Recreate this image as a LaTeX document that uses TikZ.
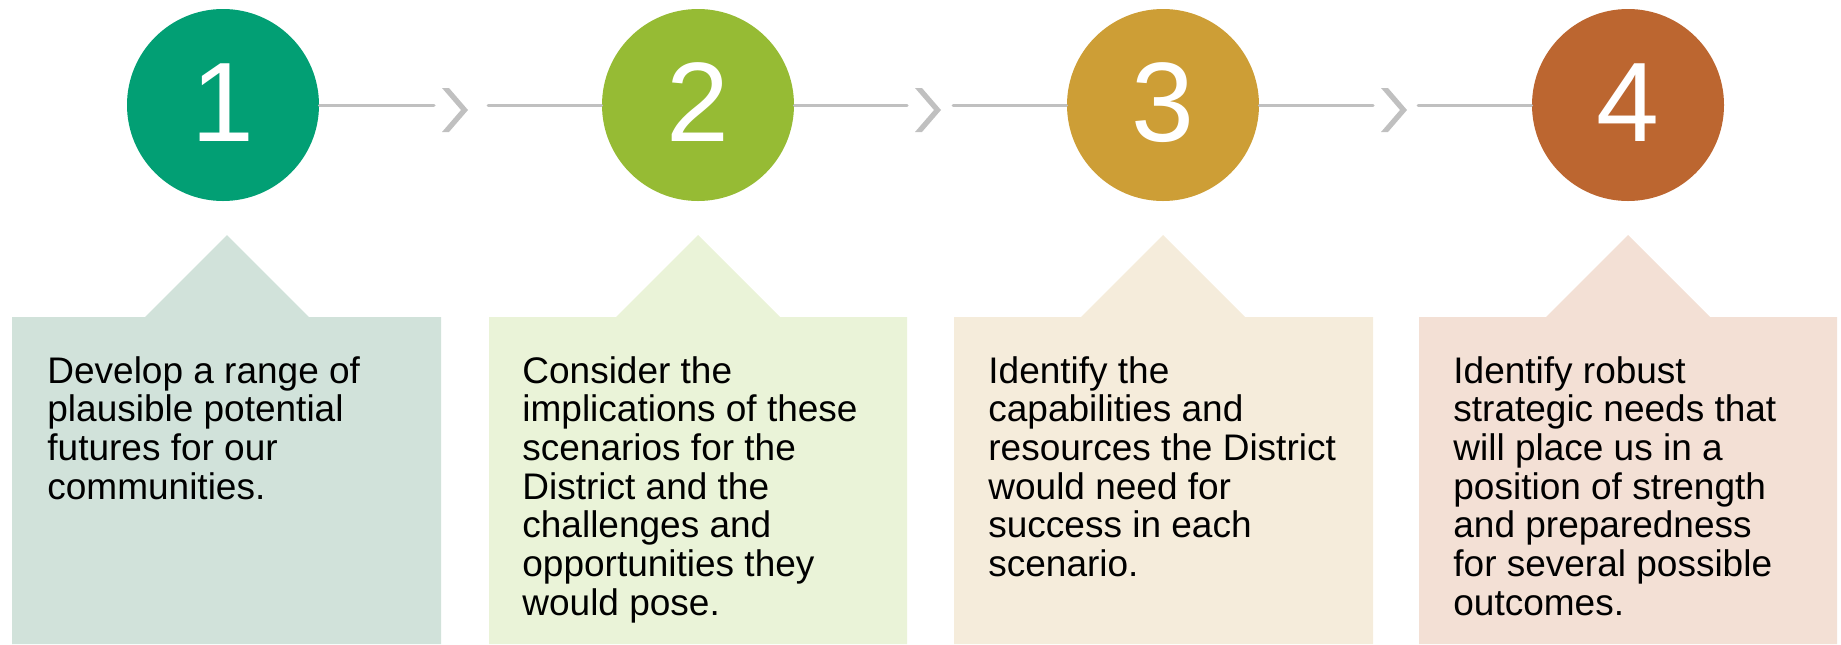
\documentclass[tikz,border=0pt]{standalone}
\usepackage{fontspec}
\setmainfont{Liberation Sans}
\definecolor{cA}{RGB}{2,159,116}
\definecolor{cB}{RGB}{150,187,52}
\definecolor{cC}{RGB}{205,158,54}
\definecolor{cD}{RGB}{188,102,48}
\definecolor{bA}{RGB}{209,226,218}
\definecolor{bB}{RGB}{234,243,216}
\definecolor{bC}{RGB}{245,236,219}
\definecolor{bD}{RGB}{243,224,213}
\definecolor{lineg}{RGB}{192,192,192}
\begin{document}
\begin{tikzpicture}[x=0.5pt,y=-0.5pt,
  stepcirc/.style={circle,inner sep=0pt,minimum size=96pt,text=white,
    font=\fontsize{56.5pt}{60pt}\selectfont,text height=40.5pt,text depth=4.5pt},
  desc/.style={anchor=base west,inner sep=0pt,align=left,
    font=\fontsize{18.5pt}{19.35pt}\selectfont},
  conn/.style={draw=lineg,line width=1.5pt,line cap=round},
  chev/.style={fill=lineg}]
\useasboundingbox (0,0) rectangle (1841,644);

% tabbed boxes
\fill[bA] (12,644) -- (12,317) -- (145,317) -- (227,235) -- (309,317) -- (441,317) -- (441,644) -- cycle;
\fill[bB] (489,644) -- (489,317) -- (616,317) -- (698,235) -- (780,317) -- (907,317) -- (907,644) -- cycle;
\fill[bC] (954,644) -- (954,317) -- (1081,317) -- (1163,235) -- (1245,317) -- (1373,317) -- (1373,644) -- cycle;
\fill[bD] (1419,644) -- (1419,317) -- (1546,317) -- (1628,235) -- (1710,317) -- (1837,317) -- (1837,644) -- cycle;

% circles
\node[stepcirc,fill=cA] (c1) at (223,105) {1};
\node[stepcirc,fill=cB] (c2) at (698,105) {2};
\node[stepcirc,fill=cC] (c3) at (1163,105) {3};
\node[stepcirc,fill=cD] (c4) at (1628,105) {4};

% connector end points
\coordinate (e1) at (434,105);
\coordinate (s2) at (488,105);
\coordinate (e2) at (907,105);
\coordinate (s3) at (953,105);
\coordinate (e3) at (1373,105);
\coordinate (s4) at (1418,105);

\draw[conn] (c1.east) -- (e1);
\draw[conn] (s2) -- (c2.west);
\draw[conn] (c2.east) -- (e2);
\draw[conn] (s3) -- (c3.west);
\draw[conn] (c3.east) -- (e3);
\draw[conn] (s4) -- (c4.west);

% chevrons
\foreach \a in {442,915,1381}{
  \fill[chev] (\a,88) -- (\a+7,88) -- (\a+26,110) -- (\a+7,132) -- (\a,132) -- (\a+19,110) -- cycle;
}

% texts (anchored at the baseline of the last line)
\node[desc] (t1) at (47,499.1) {Develop a range of\\plausible potential\\futures for our\\communities.};
\node[desc] (t2) at (522,615.2) {Consider the\\implications of these\\scenarios for the\\District and the\\challenges and\\opportunities they\\would pose.};
\node[desc] (t3) at (988,576.5) {Identify the\\capabilities and\\resources the District\\would need for\\success in each\\scenario.};
\node[desc] (t4) at (1453,615.2) {Identify robust\\strategic needs that\\will place us in a\\position of strength\\and preparedness\\for several possible\\outcomes.};
\end{tikzpicture}
\end{document}
